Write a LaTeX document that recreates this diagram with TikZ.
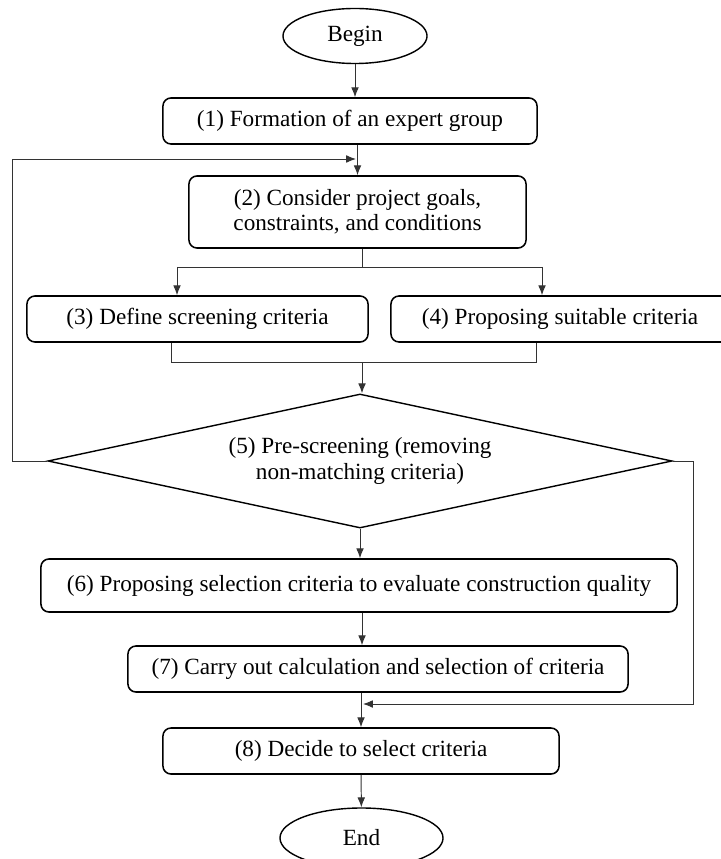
\documentclass[tikz,border=0pt]{standalone}
\usepackage{fontspec}
\setmainfont{Liberation Serif}
\usetikzlibrary{shapes.geometric,positioning,arrows.meta}

\begin{document}
\begin{tikzpicture}[x=0.025cm,y=-0.025cm,>={Latex[length=7pt,width=5.5pt]},font=\fontsize{16.5}{18}\selectfont]
	\tikzstyle{terminal}=[ellipse,draw=black,line width=1pt,inner sep=0pt]
	\tikzstyle{stepbox}=[rectangle,rounded corners=0.2cm,draw=black,line width=1.1pt,inner sep=0pt,align=center,minimum height=1.15cm]
	\tikzstyle{decision}=[diamond,draw=black,line width=1pt,inner sep=0pt,align=center,aspect=4.66]
	\tikzstyle{link}=[->,draw=black!80,line width=0.7pt]
	\tikzstyle{line}=[draw=black!80,line width=0.7pt]

	\useasboundingbox (0,0) rectangle (721,859);
	\clip (0,0) rectangle (721,859);

	% Draw the begin and end nodes
	\node[terminal,minimum width=3.6cm,minimum height=1.375cm] (begin) at (355,36) {Begin};
	\node[terminal,minimum width=4.075cm,minimum height=1.5cm] (end) at (361.5,838) {End};

	% Draw the steps
	\node[stepbox,minimum width=9.35cm] (s1) at (350,121) {(1) Formation of an expert group};
	\node[stepbox,minimum width=8.425cm,minimum height=1.8cm] (s2) at (357.5,212) {(2) Consider project goals,\\constraints, and conditions};
	\node[stepbox,minimum width=8.525cm] (s3) at (197.5,319) {(3) Define screening criteria};
	\node[stepbox,minimum width=8.45cm] (s4) at (560,319) {(4) Proposing suitable criteria};
	\node[decision,minimum width=15.6cm,minimum height=3.35cm] (s5) at (360,461) {(5) Pre-screening (removing\\non-matching criteria)};
	\node[stepbox,minimum width=15.9cm,minimum height=1.325cm] (s6) at (359,585.5) {(6) Proposing selection criteria to evaluate construction quality};
	\node[stepbox,minimum width=12.5cm] (s7) at (378,669) {(7) Carry out calculation and selection of criteria};
	\node[stepbox,minimum width=9.9cm] (s8) at (361,751) {(8) Decide to select criteria};

	% Points where the lines split, join and turn back
	\coordinate (split) at (362,267);
	\coordinate (split3) at (177,267);
	\coordinate (split4) at (542,267);
	\coordinate (merge) at (362,362);
	\coordinate (merge3) at (171,362);
	\coordinate (merge4) at (536,362);
	\coordinate (loopleft) at (12,461);
	\coordinate (backin) at (356,159);
	\coordinate (loopright) at (693,461);
	\coordinate (backout) at (363,704);

	% Connect the steps
	\draw[link] (begin) -- (begin |- s1.north);
	\draw[link] (s1.south -| s2) -- (s2.north);
	\draw[line] (s2.south -| split) -- (split);
	\draw[line] (split3) -- (split4);
	\draw[link] (split3) -- (split3 |- s3.north);
	\draw[link] (split4) -- (split4 |- s4.north);
	\draw[line] (merge3 |- s3.south) -- (merge3) -- (merge4) -- (merge4 |- s4.south);
	\draw[link] (merge) -- (merge |- s5.north);
	\draw[link] (s5.south) -- (s5.south |- s6.north);
	\draw[link] (s6.south -| merge) -- (s7.north -| merge);
	\draw[link] (s7.south -| s8) -- (s8.north);
	\draw[link] (s8) -- (end);
	% Loops back from the pre-screening
	\draw[link] (s5.west) -- (loopleft) |- (backin);
	\draw[link] (s5.east) -- (loopright) |- (backout);
\end{tikzpicture}
\end{document}
